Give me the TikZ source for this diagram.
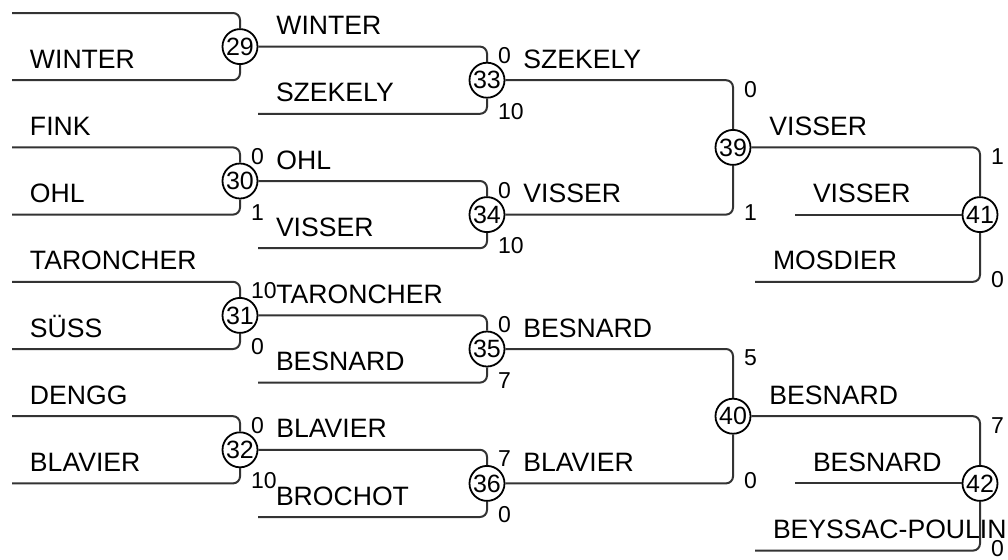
\documentclass[tikz,border=0pt]{standalone}
\usepackage{fontspec}
\setmainfont{Liberation Sans}
\usetikzlibrary{positioning, calc}
\tikzset{
    matchNode/.style={circle, draw, line width=0.9pt, fill=white, inner sep=0pt, minimum size=17.5pt, font=\fontsize{12.5pt}{14pt}\selectfont},
    bline/.style={line width=1pt, black!80, rounded corners=3.5pt},
    nameLabel/.style={anchor=base west, inner sep=0pt, xshift=8.5pt, yshift=6pt, black, font=\fontsize{13.3pt}{16pt}\selectfont},
    scoreTop/.style={anchor=north west, inner sep=0pt, xshift=5pt, black, font=\fontsize{11.5pt}{13pt}\selectfont},
    scoreBot/.style={anchor=base west, inner sep=0pt, xshift=5pt, yshift=-2.75pt, black, font=\fontsize{11.5pt}{13pt}\selectfont},
}
\newcommand{\drawTop}[4]{
    \draw[bline] (#1) -| node[pos=0, nameLabel] {#3} node[pos=0.5, scoreTop] {#4} (#2);
}
\newcommand{\drawBot}[4]{
    \draw[bline] (#1) -| node[pos=0, nameLabel] {#3} node[pos=0.5, scoreBot] {#4} (#2);
}
\newcommand{\drawMid}[3]{
    \draw[bline] (#1) -- node[pos=0, nameLabel] {#3} (#2);
}
\begin{document}
\begin{tikzpicture}[x=0.5pt, y=-16.8pt]
    \useasboundingbox (0,-0.387) rectangle (1008,16.25);

    % round 1
    \node[matchNode] (m29) at (240,1) {29};
    \node[matchNode] (m30) at (240,5) {30};
    \node[matchNode] (m31) at (240,9) {31};
    \node[matchNode] (m32) at (240,13) {32};
    \coordinate (e29a) at (12,0);  \coordinate (e29b) at (12,2);
    \coordinate (e30a) at (12,4);  \coordinate (e30b) at (12,6);
    \coordinate (e31a) at (12,8);  \coordinate (e31b) at (12,10);
    \coordinate (e32a) at (12,12); \coordinate (e32b) at (12,14);
    \draw[bline] (e29a) -| (m29);
    \drawBot{e29b}{m29}{WINTER}{}
    \drawTop{e30a}{m30}{FINK}{0}
    \drawBot{e30b}{m30}{OHL}{1}
    \drawTop{e31a}{m31}{TARONCHER}{10}
    \drawBot{e31b}{m31}{SÜSS}{0}
    \drawTop{e32a}{m32}{DENGG}{0}
    \drawBot{e32b}{m32}{BLAVIER}{10}

    % round 2
    \node[matchNode] (m33) at (487,2) {33};
    \node[matchNode] (m34) at (487,6) {34};
    \node[matchNode] (m35) at (487,10) {35};
    \node[matchNode] (m36) at (487,14) {36};
    \coordinate (e33) at (258,3);
    \coordinate (e34) at (258,7);
    \coordinate (e35) at (258,11);
    \coordinate (e36) at (258,15);
    \drawTop{m29}{m33}{WINTER}{0}
    \drawBot{e33}{m33}{SZEKELY}{10}
    \drawTop{m30}{m34}{OHL}{0}
    \drawBot{e34}{m34}{VISSER}{10}
    \drawTop{m31}{m35}{TARONCHER}{0}
    \drawBot{e35}{m35}{BESNARD}{7}
    \drawTop{m32}{m36}{BLAVIER}{7}
    \drawBot{e36}{m36}{BROCHOT}{0}

    % round 3
    \node[matchNode] (m39) at (733,4) {39};
    \node[matchNode] (m40) at (733,12) {40};
    \drawTop{m33}{m39}{SZEKELY}{0}
    \drawBot{m34}{m39}{VISSER}{1}
    \drawTop{m35}{m40}{BESNARD}{5}
    \drawBot{m36}{m40}{BLAVIER}{0}

    % round 4
    \node[matchNode] (m41) at (980,6) {41};
    \node[matchNode] (m42) at (980,14) {42};
    \coordinate (e41m) at (795,6);  \coordinate (e41b) at (755,8);
    \coordinate (e42m) at (795,14); \coordinate (e42b) at (755,16);
    \drawTop{m39}{m41}{VISSER}{1}
    \drawMid{e41m}{m41}{VISSER}
    \drawBot{e41b}{m41}{MOSDIER}{0}
    \drawTop{m40}{m42}{BESNARD}{7}
    \drawMid{e42m}{m42}{BESNARD}
    \drawBot{e42b}{m42}{BEYSSAC-POULIN}{0}

\end{tikzpicture}
\end{document}
